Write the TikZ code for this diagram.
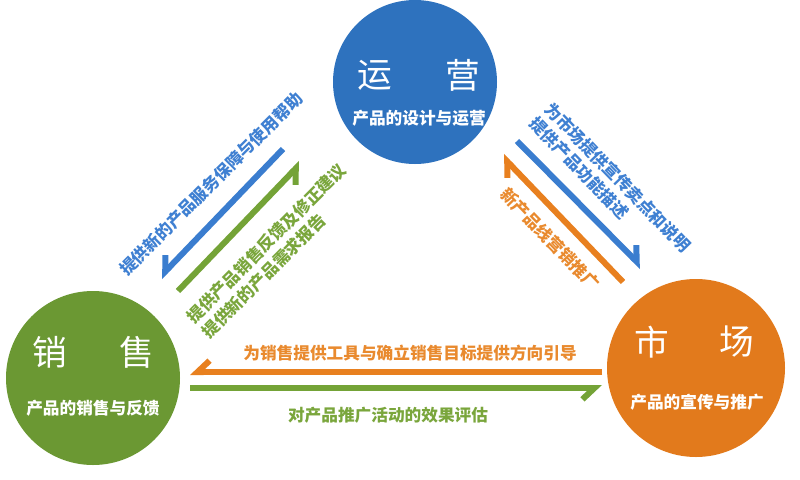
\documentclass[tikz,border=0pt]{standalone}
\usepackage{fontspec}
\setmainfont{Noto Sans CJK SC}
\usetikzlibrary{arrows.meta}
\definecolor{cblue}{HTML}{2E72BE}
\definecolor{cgreen}{HTML}{6B9833}
\definecolor{corange}{HTML}{E27A1C}
\definecolor{ablue}{HTML}{3A7DCF}
\definecolor{agreen}{HTML}{74A337}
\definecolor{aorange}{HTML}{E8801F}
\definecolor{tblue}{HTML}{3F80D2}
\definecolor{tgreen}{HTML}{7AA63C}
\definecolor{torange}{HTML}{E98A2E}
\begin{document}
\begin{tikzpicture}[x=0.75pt,y=-0.75pt,
  circ/.style={circle,draw=none,inner sep=0pt},
  ttl/.style={text=white,font=\fontsize{26}{28}\selectfont,inner sep=0pt},
  sub/.style={text=white,font=\fontsize{12.5}{14}\selectfont\bfseries,inner sep=0pt},
  lbl/.style={font=\fontsize{12.5}{16}\selectfont\bfseries,inner sep=0pt,align=left},
  flow/.style={line width=4.5pt},
  hR/.style={-{Straight Barb[harpoon,swap,length=9pt,width=17pt]}},
  hL/.style={-{Straight Barb[harpoon,length=9pt,width=17pt]}}]
\useasboundingbox (0,0) rectangle (800,479);
\fill[white] (0,0) rectangle (800,479);
% circles
\node[circ,fill=cblue,minimum size=123pt] (yy) at (415,82) {};
\node[circ,fill=cgreen,minimum size=130.5pt] (xs) at (93,378) {};
\node[circ,fill=corange,minimum size=133.5pt] (sc) at (696,368) {};
% titles
\node[ttl] (yy1) at (375,75) {运};
\node[ttl] (yy2) at (463,75) {营};
\node[sub] (yys) at (419,118) {产品的设计与运营};
\node[ttl] (xs1) at (50,352) {销};
\node[ttl] (xs2) at (137,352) {售};
\node[sub] (xss) at (93,408) {产品的销售与反馈};
\node[ttl] (sc1) at (652,342) {市};
\node[ttl] (sc2) at (737,342) {场};
\node[sub] (scs) at (697,402) {产品的宣传与推广};
% arrow end points
\coordinate (lb1) at (283,149);
\coordinate (lb2) at (160,277);
\coordinate (lg1) at (178,291);
\coordinate (lg2) at (301,163);
\coordinate (rb1) at (517,141);
\coordinate (rb2) at (642,267);
\coordinate (ro1) at (623,282);
\coordinate (ro2) at (502,156);
\coordinate (bo1) at (602,372);
\coordinate (bo2) at (190,372);
\coordinate (bg1) at (190,388);
\coordinate (bg2) at (602,388);
% arrows
\draw[flow,ablue,hR] (lb1) -- (lb2);
\draw[flow,agreen,hR] (lg1) -- (lg2);
\draw[flow,ablue,hL] (rb1) -- (rb2);
\draw[flow,aorange,hL] (ro1) -- (ro2);
\draw[flow,aorange,hR] (bo1) -- (bo2);
\draw[flow,agreen,hR] (bg1) -- (bg2);
% labels
\node[lbl,text=tblue,rotate=45] (t1) at (211,184) {提供新的产品服务保障与使用帮助};
\node[lbl,text=tgreen,rotate=45] (t2) at (274,251) {提供产品销售反馈及修正建议\\提供新的产品需求报告};
\node[lbl,text=tblue,rotate=-46] (t3) at (610,185) {为市场提供宣传卖点和说明\\提供产品功能描述};
\node[lbl,text=torange,rotate=-46] (t4) at (550,239) {新产品线营销推广};
\node[lbl,text=torange] (t5) at (410,353) {为销售提供工具与确立销售目标提供方向引导};
\node[lbl,text=tgreen] (t6) at (388,415) {对产品推广活动的效果评估};
\end{tikzpicture}
\end{document}
